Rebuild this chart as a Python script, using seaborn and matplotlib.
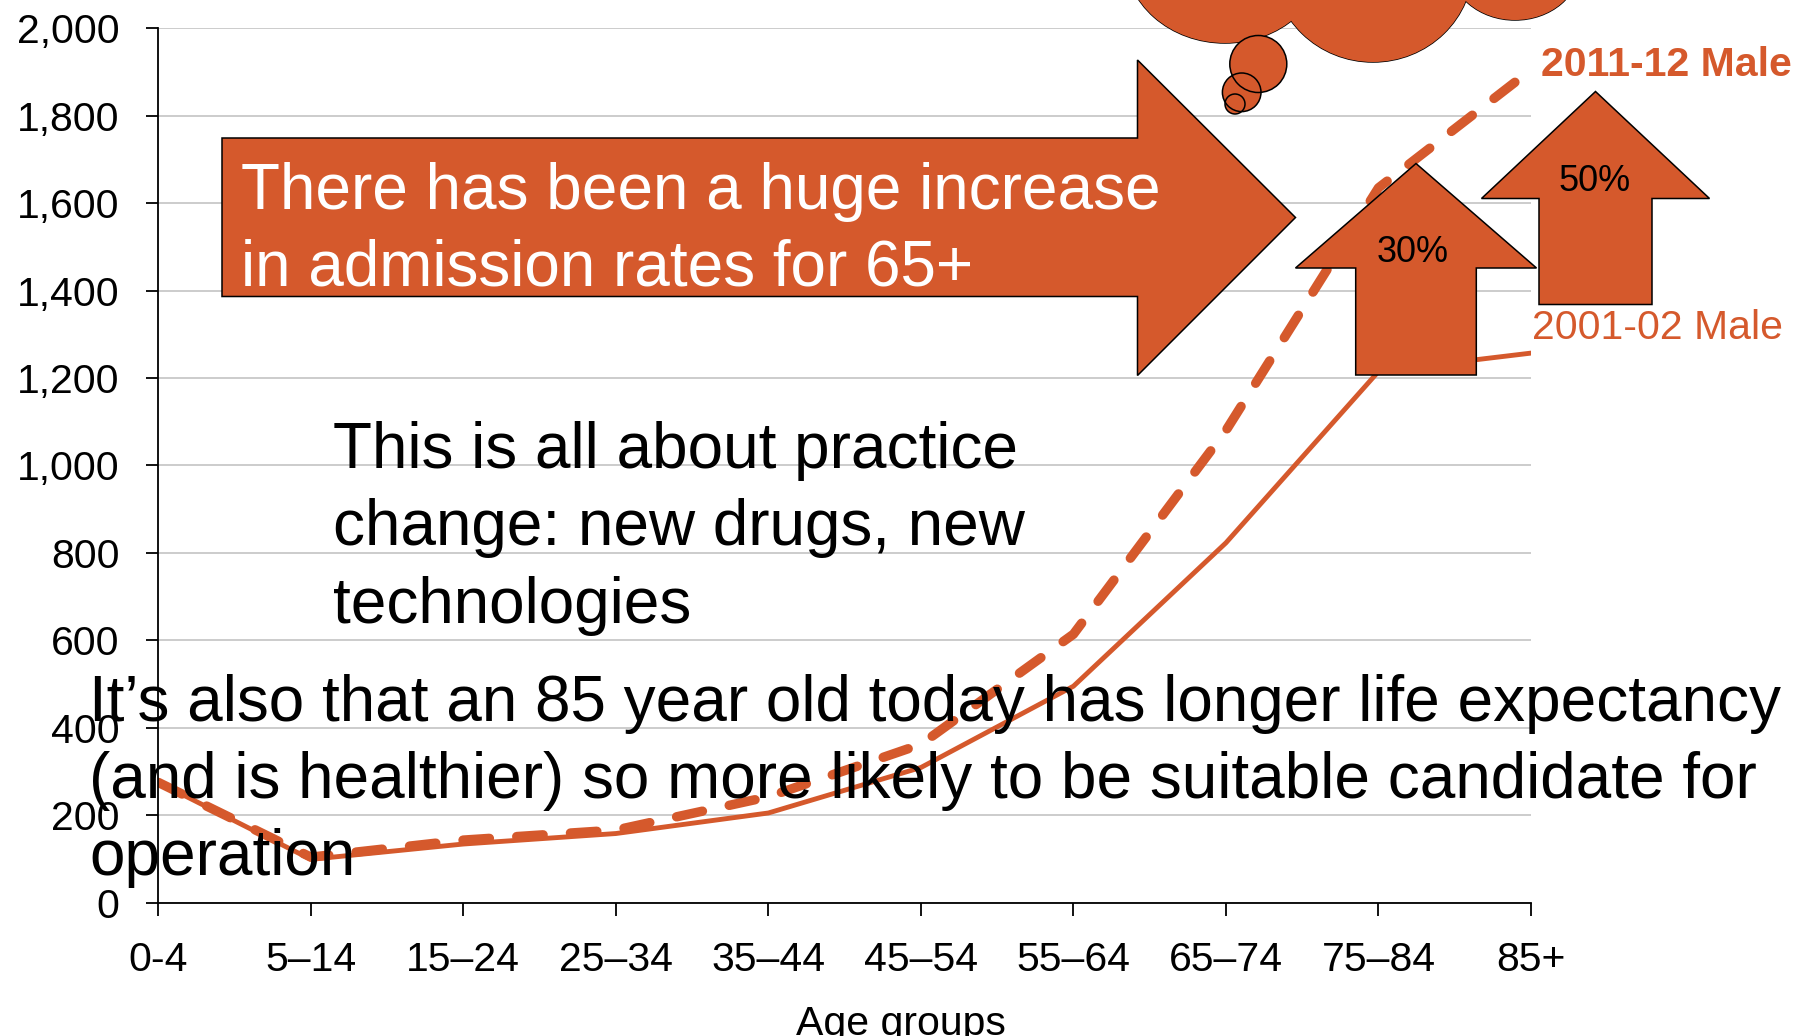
import numpy as np
import pandas as pd
import seaborn as sns
import matplotlib.pyplot as plt
import matplotlib.ticker as mticker
from matplotlib.patches import Polygon, Ellipse, Circle

# data
age_groups = ['0-4', '5–14', '15–24', '25–34', '35–44',
              '45–54', '55–64', '65–74', '75–84', '85+']
male_2001 = [275, 99, 134, 158, 205, 309, 495, 823, 1215, 1257]
male_2011 = [275, 104, 143, 166, 242, 362, 614, 1080, 1635, 1905]
series_labels = ['2001-02 Male', '2011-12 Male']
y_ticks = list(range(0, 2001, 200))

arrow_text = ['There has been a huge increase', 'in admission rates for 65+']
practice_text = ['This is all about practice', 'change: new drugs, new',
                 'technologies']
life_text = ['It’s also that an 85 year old today has longer life expectancy',
             '(and is healthier) so more likely to be suitable candidate for',
             'operation']
rise_labels = ['30%', '50%']

orange = '#D5592C'
W, H = 1802, 1036

sns.set_style('white')
plt.rcParams['font.family'] = ['Liberation Sans', 'DejaVu Sans']

fig = plt.figure(figsize=(W / 100, H / 100), dpi=100)
ax = fig.add_axes([158.3 / W, (H - 902.6) / H,
                   (1531 - 158.3) / W, (902.6 - 28.3) / H])

sns.lineplot(x=age_groups, y=male_2001, color=orange, linewidth=3.5,
             sort=False, ax=ax)
sns.lineplot(x=age_groups, y=male_2011, color=orange, linewidth=6.8,
             sort=False, ax=ax)
dash_line = ax.lines[-1]
dash_line.set_dashes((2.8, 2.9))
dash_line.set_dash_capstyle('round')

ax.set_xlim(0, len(age_groups) - 1)
ax.set_ylim(0, 2000)
ax.set_yticks(y_ticks)
ax.yaxis.set_major_formatter(mticker.StrMethodFormatter('{x:,.0f}'))
ax.set_xticks(range(len(age_groups)), age_groups)
ax.tick_params(axis='both', direction='out', length=9, width=1.3, pad=19,
               labelsize=29.5, color='black', labelcolor='black',
               bottom=True, left=True)
sns.despine(ax=ax)
for side in ['left', 'bottom']:
    ax.spines[side].set_color('black')
    ax.spines[side].set_linewidth(1.3)
ax.grid(axis='y', color='#BFBFBF', linewidth=1.1)
ax.set_axisbelow(True)
ax.set_ylabel('')
ax.set_xlabel('Age groups', fontsize=29.5, color='black')
ax.xaxis.set_label_coords((901 - 158.3) / (1531 - 158.3),
                          -(1005 - 902.6) / (902.6 - 28.3))

ax.annotate(series_labels[1], xy=(len(age_groups) - 1, male_2011[-1]),
            xytext=(7, -4.5), textcoords='offset points', ha='left',
            va='baseline', fontsize=29.5, fontweight='bold', color=orange,
            annotation_clip=False)
ax.annotate(series_labels[0], xy=(len(age_groups) - 1, male_2001[-1]),
            xytext=(0.5, 10), textcoords='offset points', ha='left',
            va='baseline', fontsize=29.5, color=orange,
            annotation_clip=False)

# overlay in pixel coordinates for the slide shapes and callouts
over = fig.add_axes([0, 0, 1, 1])
over.set_xlim(0, W)
over.set_ylim(H, 0)
over.axis('off')

# thought cloud
bumps = [((1225, -45), 200, 176), ((1373, -35), 200, 194),
         ((1515, -35), 130, 110)]
for c, w, h in bumps:
    over.add_patch(Ellipse(c, w, h, facecolor=orange, edgecolor='black',
                           linewidth=1.1, zorder=1))
for c, w, h in bumps:
    over.add_patch(Ellipse(c, w, h, facecolor=orange, edgecolor='none',
                           zorder=2))
bubbles = [((1258.3, 64), 28.5), ((1241.7, 92.3), 19.3), ((1235, 104), 10)]
for c, r in bubbles:
    over.add_patch(Circle(c, r, facecolor=orange, edgecolor='none', zorder=3))
for c, r in bubbles:
    over.add_patch(Circle(c, r, facecolor='none', edgecolor='black',
                          linewidth=1.1, zorder=4))

# big right arrow
big_arrow = [(222, 138), (1137.5, 138), (1137.5, 60), (1295.5, 217.5),
             (1137.5, 375.5), (1137.5, 296.5), (222, 296.5)]
over.add_patch(Polygon(big_arrow, closed=True, facecolor=orange,
                       edgecolor='black', linewidth=1.1, zorder=3))


def up_arrow(cx, tip_y, base_y, head_half, body_half, bottom_y):
    return [(cx, tip_y), (cx + head_half, base_y), (cx + body_half, base_y),
            (cx + body_half, bottom_y), (cx - body_half, bottom_y),
            (cx - body_half, base_y), (cx - head_half, base_y)]


over.add_patch(Polygon(up_arrow(1416, 163.5, 268, 120.5, 60.3, 375),
                       closed=True, facecolor=orange, edgecolor='black',
                       linewidth=1.1, zorder=3))
over.add_patch(Polygon(up_arrow(1595.5, 91.5, 198.5, 114, 56.5, 304.5),
                       closed=True, facecolor=orange, edgecolor='black',
                       linewidth=1.1, zorder=3))
over.text(1413, 261.7, rise_labels[0], ha='center', va='baseline',
          fontsize=26, color='black', zorder=5)
over.text(1594.6, 190.7, rise_labels[1], ha='center', va='baseline',
          fontsize=26, color='black', zorder=5)

for line, y in zip(arrow_text, [209.3, 285.7]):
    over.text(241, y, line, ha='left', va='baseline', fontsize=46,
              color='white', zorder=5)
for line, y in zip(practice_text, [468, 545.5, 623]):
    over.text(333, y, line, ha='left', va='baseline', fontsize=46,
              color='black', zorder=5)
for line, y in zip(life_text, [721.5, 798, 875]):
    over.text(89, y, line, ha='left', va='baseline', fontsize=46,
              color='black', zorder=5)

fig.savefig('out.png', dpi=100)
